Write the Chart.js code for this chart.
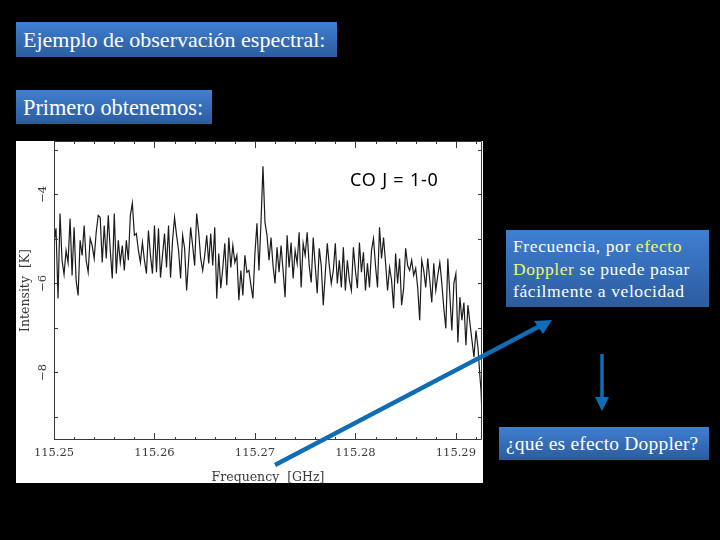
<!DOCTYPE html>
<html><head><meta charset="utf-8">
<script src="https://cdn.jsdelivr.net/npm/chart.js@4"></script>
<style>
html,body{margin:0;padding:0;background:#000;width:720px;height:540px;overflow:hidden}
#wrap{position:absolute;left:16px;top:141px;width:467px;height:342px}
canvas{display:block}
.box{position:absolute;box-sizing:border-box;background:linear-gradient(#3f7fd2,#2b5c9e);color:#fff;font-family:"Liberation Serif",serif;white-space:nowrap}
.co{position:absolute;left:350px;top:167px;font:18px "Noto Sans",sans-serif;letter-spacing:.8px;color:#000;white-space:nowrap}
svg{position:absolute;left:0;top:0}
em{font-style:normal;color:#eef86a}
</style></head><body>
<div id="wrap"><canvas id="c" width="467" height="342"></canvas></div>
<div class="box" style="left:16px;top:22px;width:321px;height:35px;font-size:22px;line-height:35px;padding-left:7px">Ejemplo de observación espectral:</div>
<div class="box" style="left:16px;top:90px;width:196px;height:34px;font-size:22.3px;line-height:35px;padding-left:7px">Primero obtenemos:</div>
<div class="box" style="left:506px;top:230px;width:203px;height:77px;font-size:17.5px;line-height:22.5px;padding:5px 0 0 7px;letter-spacing:.6px">Frecuencia, por <em>efecto</em><br><em>Doppler</em> se puede pasar<br>fácilmente a velocidad</div>
<div class="box" style="left:499px;top:427px;width:210px;height:33px;font-size:19.5px;line-height:33px;padding-left:7px;letter-spacing:.2px">¿qué es efecto Doppler?</div>
<div class="co">CO J = 1-0</div>
<svg width="720" height="540">
<line x1="275" y1="465" x2="541" y2="325.5" stroke="#0f6db5" stroke-width="4.5"/>
<polygon points="552,320 534,321 543,334" fill="#0f6db5"/>
<line x1="602" y1="354" x2="602" y2="399" stroke="#0f6db5" stroke-width="3.5"/>
<polygon points="602,411 595,397 609,397" fill="#0f6db5"/>
</svg>
<script>
const frequencyGHz = [
115.2500,115.2502,115.2504,115.2506,115.2508,115.2510,115.2512,115.2514,115.2516,115.2518,
115.2520,115.2522,115.2524,115.2526,115.2528,115.2530,115.2532,115.2534,115.2536,115.2538,
115.2540,115.2542,115.2544,115.2546,115.2548,115.2550,115.2552,115.2554,115.2556,115.2558,
115.2560,115.2562,115.2564,115.2566,115.2568,115.2570,115.2572,115.2574,115.2576,115.2578,
115.2580,115.2582,115.2584,115.2586,115.2588,115.2590,115.2592,115.2594,115.2596,115.2598,
115.2600,115.2602,115.2604,115.2606,115.2608,115.2610,115.2612,115.2614,115.2616,115.2618,
115.2620,115.2622,115.2624,115.2626,115.2628,115.2630,115.2632,115.2634,115.2636,115.2638,
115.2640,115.2642,115.2644,115.2646,115.2648,115.2650,115.2652,115.2654,115.2656,115.2658,
115.2660,115.2662,115.2664,115.2666,115.2668,115.2670,115.2672,115.2674,115.2676,115.2678,
115.2680,115.2682,115.2684,115.2686,115.2688,115.2690,115.2692,115.2694,115.2696,115.2698,
115.2700,115.2702,115.2704,115.2706,115.2708,115.2710,115.2712,115.2714,115.2716,115.2718,
115.2720,115.2722,115.2724,115.2726,115.2728,115.2730,115.2732,115.2734,115.2736,115.2738,
115.2740,115.2742,115.2744,115.2746,115.2748,115.2750,115.2752,115.2754,115.2756,115.2758,
115.2760,115.2762,115.2764,115.2766,115.2768,115.2770,115.2772,115.2774,115.2776,115.2778,
115.2780,115.2782,115.2784,115.2786,115.2788,115.2790,115.2792,115.2794,115.2796,115.2798,
115.2800,115.2802,115.2804,115.2806,115.2808,115.2810,115.2812,115.2814,115.2816,115.2818,
115.2820,115.2822,115.2824,115.2826,115.2828,115.2830,115.2832,115.2834,115.2836,115.2838,
115.2840,115.2842,115.2844,115.2846,115.2848,115.2850,115.2852,115.2854,115.2856,115.2858,
115.2860,115.2862,115.2864,115.2866,115.2868,115.2870,115.2872,115.2874,115.2876,115.2878,
115.2880,115.2882,115.2884,115.2886,115.2888,115.2890,115.2892,115.2894,115.2896,115.2898,
115.2900,115.2902,115.2904,115.2906,115.2908,115.2910,115.2912,115.2914,115.2916,115.2918,
115.2920,115.2922,115.2924,115.2925,115.2926];
const intensityK = [
-5.10,-4.76,-6.34,-4.43,-5.48,-5.80,-5.26,-5.53,-4.54,-5.82,
-4.74,-5.93,-6.27,-5.03,-5.37,-4.70,-5.48,-5.75,-4.99,-5.15,
-5.44,-4.85,-4.47,-4.52,-5.53,-4.70,-5.44,-4.47,-5.26,-5.89,
-4.43,-5.78,-5.03,-5.53,-5.15,-5.71,-5.03,-5.48,-4.47,-4.20,
-4.92,-4.88,-5.26,-5.53,-5.08,-5.48,-5.78,-4.81,-5.37,-5.78,
-4.70,-5.75,-4.76,-5.87,-5.37,-4.88,-5.64,-4.70,-5.87,-5.03,
-4.52,-4.92,-5.26,-5.89,-4.92,-5.21,-6.16,-5.48,-4.74,-5.15,
-5.60,-4.43,-4.85,-5.44,-5.71,-5.37,-4.92,-5.55,-4.88,-5.60,
-4.74,-6.34,-5.33,-6.11,-5.66,-5.10,-6.04,-4.97,-5.64,-5.15,
-5.53,-5.37,-6.38,-5.71,-6.27,-5.37,-5.75,-5.71,-6.04,-6.34,
-5.33,-4.65,-5.71,-4.65,-3.37,-4.63,-4.92,-5.48,-4.97,-5.60,
-6.00,-5.19,-5.75,-5.15,-5.71,-6.31,-4.92,-5.64,-5.08,-5.89,
-5.26,-5.55,-4.85,-6.09,-5.10,-5.37,-4.85,-5.60,-5.98,-4.97,
-5.60,-6.22,-5.21,-5.60,-6.49,-5.78,-5.10,-5.60,-6.00,-5.71,
-5.10,-6.00,-5.48,-6.09,-5.19,-6.16,-5.48,-5.93,-6.16,-5.19,
-5.71,-6.11,-5.08,-5.75,-5.30,-6.16,-5.55,-6.09,-5.26,-4.99,
-5.60,-6.09,-4.74,-5.44,-4.97,-5.53,-6.16,-5.64,-5.93,-6.56,
-5.33,-6.00,-5.44,-6.49,-6.11,-5.21,-5.60,-5.71,-5.48,-5.82,
-5.66,-6.09,-6.83,-5.48,-5.71,-6.09,-5.44,-5.93,-6.43,-5.55,
-6.16,-5.82,-5.53,-6.00,-6.56,-7.01,-5.44,-6.27,-7.06,-6.00,
-5.78,-7.33,-6.31,-6.83,-6.43,-7.39,-6.49,-6.90,-7.28,-7.66,
-7.06,-7.44,-8.11,-8.40,-8.97];
const xRange = [115.25, 115.2926];
const yRange = [-9.52, -2.8];
const xLabelEvery = [115.25, 115.26, 115.27, 115.28, 115.29];
const yLabels = [-4, -6, -8];
const axisFont = '"DejaVu Serif", serif';
const ink = '#3a3a3a';

const sheet = {
  id: 'sheet',
  beforeDraw(ch) { const c = ch.ctx; c.save(); c.fillStyle = '#fff'; c.fillRect(0, 0, ch.width, ch.height); c.restore(); },
  afterDraw(ch) {
    const c = ch.ctx, a = ch.chartArea, xs = ch.scales.x, ys = ch.scales.y;
    c.save(); c.strokeStyle = ink; c.lineWidth = 1; c.beginPath();
    c.rect(a.left + .5, a.top + .5, a.right - a.left - 1, a.bottom - a.top - 1);
    xs.ticks.forEach(t => {
      const p = Math.round(xs.getPixelForValue(t.value)) + .5;
      const major = xLabelEvery.some(v => Math.abs(v - t.value) < 1e-6);
      const len = major ? 7 : 3;
      c.moveTo(p, a.bottom); c.lineTo(p, a.bottom - len);
      c.moveTo(p, a.top); c.lineTo(p, a.top + len);
    });
    ys.ticks.forEach(t => {
      const p = Math.round(ys.getPixelForValue(t.value)) + .5;
      c.moveTo(a.left, p); c.lineTo(a.left + 4, p);
      c.moveTo(a.right, p); c.lineTo(a.right - 4, p);
    });
    c.stroke(); c.restore();
  }
};

new Chart(document.getElementById('c'), {
  type: 'line',
  data: { datasets: [{
    data: frequencyGHz.map((f, i) => ({ x: f, y: intensityK[i] })),
    borderColor: '#1c1c1c', borderWidth: 1.2, pointRadius: 0, tension: 0
  }]},
  options: {
    responsive: false, animation: false, devicePixelRatio: 1,
    layout: { padding: { top: 0, right: 1, left: 0, bottom: 0 } },
    plugins: { legend: { display: false }, tooltip: { enabled: false } },
    scales: {
      x: {
        type: 'linear', min: xRange[0], max: xRange[1],
        grid: { display: false, drawTicks: false }, border: { display: false },
        afterFit(s) { s.height = 43; s.paddingLeft = 0; s.paddingRight = 0; },
        ticks: { stepSize: 0.002, autoSkip: false, maxRotation: 0, padding: 6, color: ink, includeBounds: false,
          font: { family: axisFont, size: 11.5 },
          callback: v => xLabelEvery.some(m => Math.abs(m - v) < 1e-6) ? v.toFixed(2) : '' },
        title: { display: true, text: 'Frequency  [GHz]', color: ink, padding: { top: 0, bottom: -2 },
          font: { family: axisFont, size: 12.5 } }
      },
      y: {
        min: yRange[0], max: yRange[1],
        grid: { display: false, drawTicks: false }, border: { display: false },
        afterFit(s) { s.width = 38; s.paddingTop = 0; s.paddingBottom = 0; },
        ticks: { stepSize: 1, autoSkip: false, minRotation: 90, maxRotation: 90, padding: 3, color: ink, includeBounds: false,
          crossAlign: 'center', font: { family: axisFont, size: 11.5 },
          callback: v => yLabels.includes(Math.round(v)) ? '\u2212' + Math.abs(Math.round(v)) : '' },
        title: { display: true, text: 'Intensity  [K]', color: ink, padding: { top: 2, bottom: 0 },
          font: { family: axisFont, size: 12.5 } }
      }
    }
  },
  plugins: [sheet]
});
</script>
</body></html>
